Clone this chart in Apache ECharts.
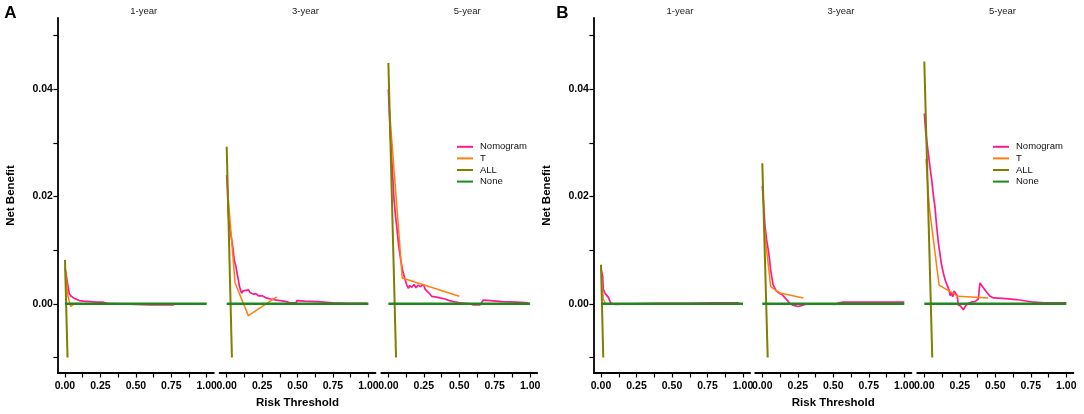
<!DOCTYPE html>
<html>
<head>
<meta charset="utf-8">
<script src="https://cdn.jsdelivr.net/npm/echarts@6/dist/echarts.min.js"></script>
<style>html,body{margin:0;padding:0;background:#fff}#c{width:1084px;height:414px}</style>
</head>
<body>
<div id="c"></div>
<script>
// ---------- DATA ----------
var panelLetters = ['A', 'B'];
var subTitles = ['1-year', '3-year', '5-year'];
var seriesNames = ['Nomogram', 'T', 'ALL', 'None'];
var xTickValues = [0, 0.125, 0.25, 0.375, 0.5, 0.625, 0.75, 0.875, 1];
var xLabelValues = [0, 0.25, 0.5, 0.75, 1];
var yTickValues = [-0.01, 0, 0.01, 0.02, 0.03, 0.04, 0.05];
var yLabelValues = [0, 0.02, 0.04];

// Panel A, 1-year
var a1Nomogram = [[0,0.0068],[0.01,0.0052],[0.018,0.0038],[0.025,0.0028],[0.03,0.0019],[0.04,0.0015],[0.05,0.0012],[0.06,0.0011],[0.07,0.0009],[0.085,0.0008],[0.1,0.0006],[0.13,0.0005],[0.18,0.0004],[0.22,0.0003],[0.27,0.0003],[0.3,0.0001],[0.4,0],[0.5,-0.0001],[0.6,-0.0002],[0.7,-0.0002],[0.77,-0.0002]];
var a1T = [[0.005,0.006],[0.02,0.0015],[0.04,-0.0005],[0.07,0.0001],[0.11,0]];
var a1All = [[0,0.0082],[0.018,-0.01]];
var a1None = [[0,0],[1,0]];
// Panel A, 3-year
var a3Nomogram = [[0,0.024],[0.006,0.021],[0.011,0.017],[0.02,0.0145],[0.035,0.012],[0.045,0.0102],[0.053,0.0082],[0.065,0.007],[0.075,0.0055],[0.082,0.0045],[0.089,0.0034],[0.097,0.0026],[0.106,0.002],[0.115,0.0024],[0.125,0.0021],[0.135,0.0025],[0.145,0.0022],[0.155,0.0026],[0.165,0.0021],[0.178,0.0024],[0.19,0.0018],[0.205,0.0019],[0.224,0.0015],[0.25,0.0015],[0.259,0.0017],[0.28,0.0011],[0.31,0.0009],[0.353,0.0007],[0.38,0.0006],[0.42,0.0004],[0.447,0.0002],[0.49,0.0002],[0.495,0.0006],[0.55,0.0005],[0.635,0.0004],[0.75,0.0002],[0.85,0.0001],[0.99,0.0001]];
var a3T = [[0.01,0.02],[0.059,0.0039],[0.153,-0.0022],[0.353,0.0013]];
var a3All = [[0,0.0293],[0.037,-0.01]];
var a3None = [[0,0],[1,0]];
// Panel A, 5-year
var a5Nomogram = [[0,0.04],[0.008,0.035],[0.016,0.0306],[0.028,0.025],[0.04,0.0194],[0.05,0.0165],[0.059,0.0144],[0.072,0.011],[0.087,0.0082],[0.1,0.0062],[0.118,0.0045],[0.13,0.0035],[0.141,0.0029],[0.15,0.0034],[0.165,0.0031],[0.18,0.0036],[0.195,0.003],[0.21,0.0035],[0.225,0.0032],[0.247,0.0036],[0.26,0.0027],[0.28,0.0022],[0.306,0.0014],[0.33,0.0013],[0.364,0.0011],[0.4,0.0009],[0.43,0.0006],[0.458,0.0004],[0.505,0.0002],[0.576,0],[0.6,-0.0002],[0.646,-0.0002],[0.67,0.0007],[0.72,0.0006],[0.8,0.0004],[0.9,0.0003],[0.99,0.0002]];
var a5T = [[0.008,0.036],[0.098,0.0048],[0.5,0.0014]];
var a5All = [[0,0.0449],[0.054,-0.01]];
var a5None = [[0,0],[1,0]];
// Panel B, 1-year
var b1Nomogram = [[0,0.0066],[0.006,0.0058],[0.012,0.0051],[0.016,0.0027],[0.022,0.0025],[0.03,0.0019],[0.04,0.0016],[0.052,0.0012],[0.06,0.0007],[0.07,0.0001],[0.075,-0.0002],[0.1,-0.0001],[0.2,0],[0.4,0.0001],[0.6,0.0001],[0.8,0.0002],[0.97,0.0002]];
var b1T = [[0.004,0.005],[0.016,0.0009],[0.03,0.0001]];
var b1All = [[0,0.0073],[0.016,-0.01]];
var b1None = [[0,0],[1,0]];
// Panel B, 3-year
var b3Nomogram = [[0,0.022],[0.008,0.019],[0.019,0.0144],[0.03,0.012],[0.042,0.01],[0.05,0.0085],[0.059,0.0063],[0.068,0.0048],[0.077,0.0035],[0.085,0.0031],[0.095,0.0025],[0.105,0.0027],[0.113,0.0021],[0.125,0.0019],[0.14,0.0017],[0.16,0.0011],[0.175,0.0007],[0.195,0],[0.22,-0.0003],[0.254,-0.0005],[0.28,-0.0003],[0.3,-0.0001],[0.35,0],[0.45,0],[0.51,-0.0001],[0.524,-0.0004],[0.54,0.0002],[0.56,0.0003],[0.7,0.0003],[0.85,0.0003],[1,0.0003]];
var b3T = [[0.01,0.015],[0.059,0.0032],[0.125,0.002],[0.289,0.0011]];
var b3All = [[0,0.0262],[0.038,-0.01]];
var b3None = [[0,0],[1,0]];
// Panel B, 5-year
var b5Nomogram = [[0,0.0355],[0.01,0.032],[0.028,0.0281],[0.04,0.0255],[0.052,0.0231],[0.065,0.02],[0.075,0.0181],[0.085,0.015],[0.092,0.0132],[0.1,0.0112],[0.11,0.0094],[0.12,0.0075],[0.134,0.0057],[0.15,0.0042],[0.165,0.0032],[0.175,0.0025],[0.183,0.0015],[0.19,0.0022],[0.2,0.0013],[0.21,0.0024],[0.223,0.0023],[0.232,0.0015],[0.239,-0.0002],[0.255,-0.0004],[0.265,-0.0003],[0.275,-0.0011],[0.29,-0.0004],[0.31,0.0001],[0.33,0.0003],[0.357,0.0004],[0.37,0.0007],[0.38,0.0009],[0.392,0.0039],[0.43,0.0025],[0.46,0.0015],[0.486,0.0011],[0.55,0.001],[0.65,0.0008],[0.768,0.0003],[0.85,0.0002],[1,0.0002]];
var b5T = [[0.012,0.027],[0.035,0.0181],[0.104,0.0035],[0.239,0.0014],[0.45,0.0011]];
var b5All = [[0,0.0452],[0.056,-0.01]];
var b5None = [[0,0],[1,0]];

var panelData = [
  [[a1Nomogram, a1T, a1All, a1None], [a3Nomogram, a3T, a3All, a3None], [a5Nomogram, a5T, a5All, a5None]],
  [[b1Nomogram, b1T, b1All, b1None], [b3Nomogram, b3T, b3All, b3None], [b5Nomogram, b5T, b5All, b5None]]
];

// ---------- STYLE / LAYOUT ----------
var colors = ['#FF1A8C', '#FF7F0E', '#7F7F00', '#1E8A1E'];
var widths = [1.7, 1.5, 2, 2.4];
var FONT = 'Liberation Sans, Arial, sans-serif';
var gridLefts = [[57.9, 219.6, 381.3], [593.9, 755.2, 917.2]];
var gridWidths = [155.9, 156.2];
var titleX = [[143.7, 305.5, 467.2], [680, 841, 1002.5]];
var letterX = [10.5, 562.5];
var legendLeft = [457, 993];
var gridTop = 18, gridHeight = 355;

var grids = [], xAxes = [], yAxes = [], series = [], graphics = [], legends = [];
var gi = 0;
for (var p = 0; p < 2; p++) {
  graphics.push({type: 'text', x: letterX[p], y: 13, style: {text: panelLetters[p], font: 'bold 17px ' + FONT, fill: '#000', textAlign: 'center', textVerticalAlign: 'middle'}});
  legends.push({
    data: seriesNames, orient: 'vertical', left: legendLeft[p], top: 141, padding: 0,
    icon: 'rect', itemWidth: 16, itemHeight: 2, itemGap: 0,
    textStyle: {fontFamily: FONT, fontSize: 9.5, color: '#111', lineHeight: 11.6, padding: [0, 0, 0, 2]},
    selectedMode: false
  });
  for (var s = 0; s < 3; s++) {
    grids.push({left: gridLefts[p][s], top: gridTop, width: gridWidths[p], height: gridHeight, containLabel: false, outerBoundsMode: 'none'});
    graphics.push({type: 'text', x: titleX[p][s], y: 11.5, style: {text: subTitles[s], font: '9.5px ' + FONT, fill: '#222', textAlign: 'center', textVerticalAlign: 'middle'}});
    xAxes.push({
      gridIndex: gi, type: 'value', min: -0.05, max: 1.05, position: 'bottom',
      name: s === 1 ? 'Risk Threshold' : '', nameLocation: 'middle', nameGap: 24,
      nameTextStyle: {fontFamily: FONT, fontWeight: 'bold', fontSize: 11.5, color: '#000'},
      axisLine: {show: true, onZero: false, lineStyle: {color: '#000', width: 1.8}},
      axisTick: {show: true, customValues: xTickValues, length: 4.5, lineStyle: {color: '#000', width: 1.2}},
      axisLabel: {customValues: xLabelValues, formatter: function (v) { return v.toFixed(2); }, fontFamily: FONT, fontWeight: 'bold', fontSize: 10.5, color: '#000', margin: 8},
      splitLine: {show: false}
    });
    yAxes.push({
      gridIndex: gi, type: 'value', min: -0.0129, max: 0.0533, show: s === 0, position: 'left',
      name: s === 0 ? 'Net Benefit' : '', nameLocation: 'middle', nameGap: 41, nameRotate: 90,
      nameTextStyle: {fontFamily: FONT, fontWeight: 'bold', fontSize: 11.5, color: '#000'},
      axisLine: {show: true, onZero: false, lineStyle: {color: '#000', width: 1.8}},
      axisTick: {show: true, customValues: yTickValues, length: 4.5, lineStyle: {color: '#000', width: 1.2}},
      axisLabel: {customValues: yLabelValues, formatter: function (v) { return v.toFixed(2); }, fontFamily: FONT, fontWeight: 'bold', fontSize: 10.5, color: '#000', margin: 5},
      splitLine: {show: false}
    });
    for (var k = 0; k < 4; k++) {
      series.push({
        name: seriesNames[k], type: 'line', xAxisIndex: gi, yAxisIndex: gi,
        data: panelData[p][s][k], showSymbol: false, symbol: 'none', smooth: false,
        lineStyle: {color: colors[k], width: widths[k]}, itemStyle: {color: colors[k]},
        z: 2 + k, animation: false, silent: true
      });
    }
    gi++;
  }
}

var chart = echarts.init(document.getElementById('c'), null, {renderer: 'canvas'});
chart.setOption({
  animation: false,
  backgroundColor: '#fff',
  grid: grids, xAxis: xAxes, yAxis: yAxes, series: series,
  legend: legends, graphic: graphics
});
</script>
</body>
</html>
